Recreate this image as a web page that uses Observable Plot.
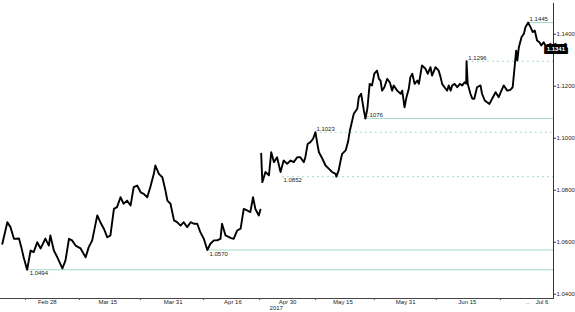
<!DOCTYPE html>
<html><head><meta charset="utf-8">
<script src="https://cdn.jsdelivr.net/npm/d3@7"></script>
<script src="https://cdn.jsdelivr.net/npm/@observablehq/plot@0.6"></script>
<style>
body{margin:0;background:#fff}
#chart svg{display:block}
</style>
</head><body><div id="chart"></div>
<script>
// EUR/USD 2017, chart days (day-of-year positions)
const daysBeforeGap = [46.6,47.9,48.7,49.6,50.9,51.5,52.1,53.0,53.9,54.7,
55.6,56.5,57.7,58.6,59.0,59.9,60.8,62.1,62.9,63.8,
64.6,65.5,66.8,68.1,68.9,69.8,71.1,71.9,72.8,73.7,
74.5,75.4,76.2,77.1,77.9,78.8,79.7,80.5,81.4,82.3,
83.1,84.0,84.8,85.7,86.1,87.0,87.9,88.7,89.2,90.0,
90.9,91.7,92.6,93.4,94.3,95.2,96.0,96.9,97.7,98.6,
99.5,100.3,101.2,102.0,102.9,103.3,104.2,105.5,106.3,107.2,
108.1,108.9,109.8,110.6,111.3,111.9,112.8,113.2];
const ratesBeforeGap = [1.0594,1.0677,1.0658,1.0613,1.0614,1.0581,1.0542,1.0494,1.0568,1.0562,
1.0600,1.0576,1.0614,1.0587,1.0626,1.0568,1.0542,1.0499,1.0530,1.0613,
1.0607,1.0587,1.0576,1.0542,1.0581,1.0607,1.0703,1.0677,1.0652,1.0619,
1.0626,1.0728,1.0735,1.0773,1.0748,1.0760,1.0741,1.0812,1.0818,1.0792,
1.0786,1.0773,1.0812,1.0863,1.0895,1.0863,1.0850,1.0799,1.0760,1.0748,
1.0684,1.0677,1.0664,1.0677,1.0658,1.0677,1.0671,1.0671,1.0639,1.0613,
1.0570,1.0594,1.0607,1.0607,1.0613,1.0671,1.0626,1.0617,1.0613,1.0645,
1.0652,1.0728,1.0722,1.0716,1.0773,1.0728,1.0703,1.0725];
const daysAfterGap = [113.4,113.7,114.5,115.4,116.0,116.7,117.5,118.4,119.2,120.1,
121.0,121.8,122.7,123.5,124.4,124.8,125.4,126.1,126.8,127.4,
127.9,128.3,129.2,130.0,130.9,131.7,132.6,132.8,133.4,133.9,
134.3,135.2,135.8,136.3,136.9,137.3,138.2,138.6,139.2,139.9,
140.3,140.8,141.4,142.0,142.6,143.3,143.8,144.2,144.6,145.2,
145.9,146.6,147.2,147.6,148.5,149.4,149.8,150.4,150.9,151.5,
151.9,152.4,153.0,153.7,154.1,154.9,155.8,156.4,157.1,157.5,
158.4,159.2,159.7,160.1,160.7,161.4,161.8,162.3,162.7,163.3,
164.0,164.7,165.3,165.9,166.3,166.4,166.7,167.4,167.9,168.4,
169.1,170.0,170.4,171.1,171.7,172.3,173.0,173.9,174.7,175.4,
176.0,176.9,177.7,178.3,178.8,179.2,179.5,179.9,180.6,181.2,
181.6,182.3,182.9,183.5,184.0,184.6,185.2,185.7,186.3,187.0,187.5,188.1];
const ratesAfterGap = [1.0940,1.0831,1.0870,1.0857,1.0946,1.0908,1.0927,1.0870,1.0914,1.0902,
1.0914,1.0908,1.0927,1.0927,1.0908,1.0927,1.0978,1.0985,1.0998,1.1023,
1.0978,1.0946,1.0921,1.0895,1.0882,1.0870,1.0863,1.0852,1.0876,1.0914,
1.0940,1.0953,1.0985,1.1030,1.1068,1.1094,1.1113,1.1158,1.1171,1.1107,
1.1076,1.1113,1.1209,1.1203,1.1248,1.1260,1.1228,1.1222,1.1183,1.1196,
1.1228,1.1215,1.1183,1.1203,1.1183,1.1171,1.1183,1.1119,1.1158,1.1190,
1.1235,1.1248,1.1209,1.1222,1.1209,1.1280,1.1267,1.1248,1.1273,1.1241,
1.1273,1.1260,1.1235,1.1209,1.1196,1.1183,1.1203,1.1183,1.1203,1.1209,
1.1196,1.1209,1.1203,1.1215,1.1210,1.1296,1.1209,1.1171,1.1152,1.1152,
1.1196,1.1203,1.1171,1.1145,1.1138,1.1132,1.1152,1.1177,1.1158,1.1183,
1.1203,1.1183,1.1186,1.1196,1.1273,1.1337,1.1299,1.1350,1.1389,1.1402,
1.1427,1.1445,1.1427,1.1408,1.1414,1.1376,1.1369,1.1357,1.1369,1.1350,1.1337,1.1341];

// marked levels
const levelValues     = [1.0494, 1.0570, 1.0852, 1.1023, 1.1076, 1.1296, 1.1445];
const levelStartDays  = [53.4, 99.8, 118.9, 127.4, 139.8, 166.6, 182.4];
const levelDashed     = [false, false, true, true, false, true, false];
const levelLabelAbove = [false, false, false, true, true, true, true];

// axes
const xTickDays   = [58.2, 73.8, 90.7, 106.1, 120.2, 134.5, 150.7, 166.6, 182.2, 185.9];
const xTickLabels = ["Feb 28","Mar 15","Mar 31","Apr 16","Apr 30","May 15","May 31","Jun 15","..","Jul 6"];
const xMinorTickDays = [52.6, 66.5, 82.3, 98.5, 113.0, 127.4, 142.6, 158.6, 175.2];
const yearLabel = "2017";
const yearLabelDay = 117.3;
const yTicks = [1.04, 1.06, 1.08, 1.10, 1.12, 1.14];
const xDomain = [46.13, 188.84];
const yDomain = [1.03835, 1.15181];

const series = [
  ...daysBeforeGap.map((d, i) => ({day: d, rate: ratesBeforeGap[i], seg: 1})),
  ...daysAfterGap.map((d, i) => ({day: d, rate: ratesAfterGap[i], seg: 2}))
];
const levels = levelValues.map((v, i) => ({
  value: v, start: levelStartDays[i], dashed: levelDashed[i], above: levelLabelAbove[i],
  label: v.toFixed(4)
}));
const labelMap = new Map(xTickDays.map((d, i) => [d, xTickLabels[i]]));
const last = series[series.length - 1];

const levelColor = "#a6d9c6";
const font = "'Liberation Sans', Arial, sans-serif";

const chart = Plot.plot({
  width: 575,
  height: 312,
  marginLeft: 0,
  marginRight: 22,
  marginTop: 3,
  marginBottom: 14,
  style: {fontFamily: font, fontSize: "6px", color: "#222", background: "#fff"},
  x: {type: "linear", domain: xDomain},
  y: {domain: yDomain},
  marks: [
    Plot.ruleY(levels.filter(d => !d.dashed), {y: "value", x1: "start", x2: xDomain[1], stroke: levelColor, strokeWidth: 1}),
    Plot.ruleY(levels.filter(d => d.dashed), {y: "value", x1: "start", x2: xDomain[1], stroke: levelColor, strokeWidth: 1, strokeDasharray: "2,3"}),
    Plot.line(series, {x: "day", y: "rate", z: "seg", stroke: "#000", strokeWidth: 1.9, strokeLinejoin: "round"}),
    Plot.text(levels.filter(d => d.above), {x: "start", y: "value", text: "label", textAnchor: "start", dy: -3.5, dx: 1, fill: "#222"}),
    Plot.text(levels.filter(d => !d.above), {x: "start", y: "value", text: "label", textAnchor: "start", dy: 3.8, dx: 1, fill: "#222"}),
    Plot.frame({anchor: "right", stroke: "#333"}),
    Plot.frame({anchor: "bottom", stroke: "#444"}),
    Plot.axisY(yTicks, {anchor: "right", tickSize: 2, tickPadding: 1, tickFormat: d3.format(".4f"), stroke: "#333", fill: "#222"}),
    Plot.axisX(xTickDays, {anchor: "bottom", tickSize: 0, tickPadding: 1, tickFormat: d => labelMap.get(d), fill: "#222"}),
    Plot.axisX(xMinorTickDays, {anchor: "bottom", tickSize: 2, tickFormat: () => "", stroke: "#555"}),
    Plot.text([yearLabel], {x: () => yearLabelDay, frameAnchor: "bottom", dy: 11.5, fill: "#222"}),
    Plot.dot([last], {y: "rate", frameAnchor: "right", symbol: "triangle", rotate: -90, r: 2.4, fill: "#000", stroke: "none", dx: 3.5}),
    Plot.text([last], {y: "rate", frameAnchor: "right", dx: 11.5, text: d => d.rate.toFixed(4), fill: "#fff", stroke: "#000", strokeWidth: 6, strokeLinejoin: "miter", paintOrder: "stroke", fontWeight: "bold"})
  ]
});
document.getElementById("chart").append(chart);
</script>
</body></html>
